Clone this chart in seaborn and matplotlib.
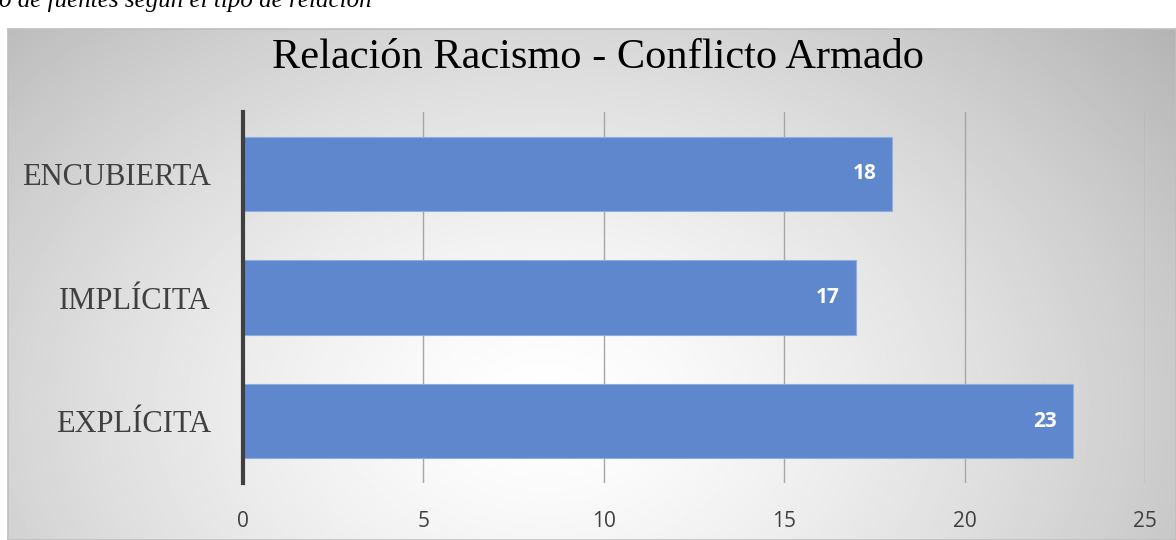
import numpy as np
import pandas as pd
import seaborn as sns
import matplotlib.pyplot as plt

# Data
categorias = ["ENCUBIERTA", "IMPLÍCITA", "EXPLÍCITA"]
fuentes = [18, 17, 23]
ticks_x = [0, 5, 10, 15, 20, 25]
titulo = "Relación Racismo - Conflicto Armado"
leyenda_sup = "o de fuentes según el tipo de relación"

df = pd.DataFrame({"tipo": categorias, "n": fuentes})

sns.set_theme(style="white")
plt.rcParams["font.family"] = ["DejaVu Sans"]

W, H = 1176, 540
fig = plt.figure(figsize=(W / 100, H / 100), dpi=100)
fig.patch.set_facecolor("white")

# chart frame with radial gradient
fx0, fy_top = 8, 29
frame = fig.add_axes([fx0 / W, 0, 1 - fx0 / W, (H - fy_top) / H], zorder=0)
ny, nx = 300, 600
yy, xx = np.mgrid[0:1:ny * 1j, 0:1:nx * 1j]
r = np.sqrt((xx - 0.46) ** 2 + ((yy - 0.74) * 0.6) ** 2) / 0.62
shade = 1 - 0.25 * np.clip(r, 0, 1.2) ** 1.4
frame.imshow(shade, cmap="gray", vmin=0, vmax=1, aspect="auto",
             extent=[0, 1, 0, 1], origin="upper")
frame.set_xticks([])
frame.set_yticks([])
for s in frame.spines.values():
    s.set_color("#BFBFBF")
    s.set_linewidth(1.2)

# caption text cut at top of page (as in the source)
fig.text(-1 / W, 1 - 7 / H, leyenda_sup, fontsize=18, style="italic",
         family="Liberation Serif", color="black", va="baseline", ha="left")

# plot axes
x0, x1 = 243, 1145
y0, y1 = 112, 483
ax = fig.add_axes([x0 / W, 1 - y1 / H, (x1 - x0) / W, (y1 - y0) / H], zorder=1)
ax.patch.set_alpha(0)

sns.barplot(data=df, x="n", y="tipo", order=categorias, orient="h",
            color="#5F87CD", saturation=1, width=0.6,
            edgecolor="#8FAEE0", linewidth=0.8, ax=ax, zorder=3)

ax.set_xlim(0, 25)
ax.set_ylim(2.5, -0.5)
ax.set_xticks(ticks_x)
ax.xaxis.grid(True, color="#A6A6A6", linewidth=1)
ax.yaxis.grid(False)
ax.set_axisbelow(True)
for s in ["top", "right", "bottom"]:
    ax.spines[s].set_visible(False)
ax.spines["left"].set_color("#404040")
ax.spines["left"].set_linewidth(3)
ax.spines["left"].set_zorder(5)
ax.tick_params(axis="x", length=0, pad=20, labelsize=15, labelcolor="#404040")
ax.tick_params(axis="y", length=0, pad=23)
for lbl in ax.get_xticklabels():
    lbl.set_family("Open Sans")
for lbl in ax.get_yticklabels():
    lbl.set_family("Liberation Serif")
    lbl.set_fontsize(22)
    lbl.set_color("#404040")
ax.set_xlabel("")
ax.set_ylabel("")

for i, v in enumerate(fuentes):
    ax.text(v - 0.45, i, str(v), ha="right", va="center", color="white",
            fontsize=15, fontweight="bold", family="Open Sans", zorder=6)

fig.text(598 / W, 1 - 58 / H, titulo, fontsize=30.5, family="Liberation Serif",
         color="black", ha="center", va="center", zorder=3)

fig.savefig("out.png", dpi=100)
